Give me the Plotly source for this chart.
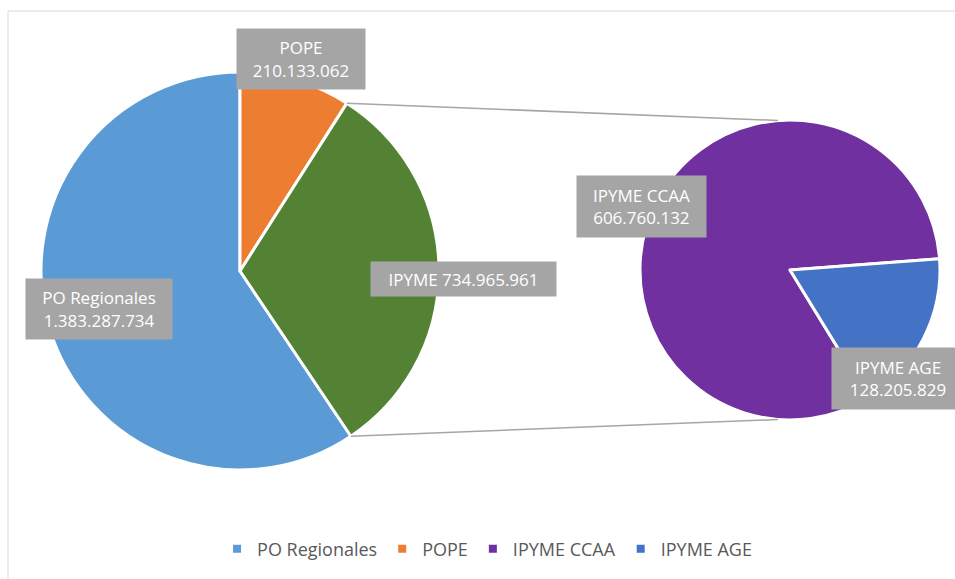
import math
import plotly.graph_objects as go

# Left pie (main programmes) and right pie (breakdown of IPYME)
main_labels = ["PO Regionales", "POPE", "IPYME"]
main_values = [1383287734, 210133062, 734965961]
main_colors = ["#5b9bd5", "#ed7d31", "#548235"]

ipyme_labels = ["IPYME CCAA", "IPYME AGE"]
ipyme_values = [606760132, 128205829]
ipyme_colors = ["#7030a0", "#4472c4"]

# Text shown in the grey label boxes
main_text = ["PO Regionales<br>1.383.287.734", "POPE<br>210.133.062", "IPYME 734.965.961"]
ipyme_text = ["IPYME CCAA<br>606.760.132", "IPYME AGE<br>128.205.829"]

W, H = 955, 579

def px_x(x):
    return x / W

def px_y(y):
    return 1 - y / H

# Pie geometry in pixels (centre x, centre y, radius)
left_pie = (240, 271, 199)
right_pie = (790, 270, 150)

def domain(p):
    cx, cy, r = p
    return dict(x=[px_x(cx - r), px_x(cx + r)], y=[px_y(cy + r), px_y(cy - r)])

# Start PO Regionales so that it ends at 12 o'clock
main_total = sum(main_values)
main_rot = 360 - 360 * main_values[0] / main_total
# IPYME AGE slice starts slightly above 3 o'clock
ipyme_total = sum(ipyme_values)
age_start = 85.7
ipyme_rot = age_start + 360 * ipyme_values[1] / ipyme_total

fig = go.Figure()
fig.add_trace(go.Pie(labels=main_labels, values=main_values, sort=False, direction="clockwise",
                     rotation=main_rot, domain=domain(left_pie), textinfo="none", showlegend=False,
                     marker=dict(colors=main_colors, line=dict(color="white", width=3))))
fig.add_trace(go.Pie(labels=ipyme_labels, values=ipyme_values, sort=False, direction="clockwise",
                     rotation=ipyme_rot, domain=domain(right_pie), textinfo="none", showlegend=False,
                     marker=dict(colors=ipyme_colors, line=dict(color="white", width=3))))

# Legend entries (IPYME itself is not in the legend)
legend_names = ["PO Regionales", "POPE", "IPYME CCAA", "IPYME AGE"]
legend_colors = ["#5b9bd5", "#ed7d31", "#7030a0", "#4472c4"]
for name, col in zip(legend_names, legend_colors):
    fig.add_trace(go.Scatter(x=[None], y=[None], mode="markers", name=name,
                             marker=dict(symbol="square", size=8, color=col)))

# Connector lines from the IPYME slice edges to the second pie
def point_on(p, angle):
    cx, cy, r = p
    a = math.radians(angle)
    return cx + r * math.sin(a), cy - r * math.cos(a)

ip_start = (main_rot + 360 * (main_values[0] + main_values[1]) / main_total) % 360
ip_end = main_rot
shapes = []
for a_left, a_right in [(ip_start, -4.6), (ip_end, 184.6)]:
    x0, y0 = point_on(left_pie, a_left)
    x1, y1 = point_on(right_pie, a_right)
    shapes.append(dict(type="line", xref="paper", yref="paper",
                       x0=px_x(x0), y0=px_y(y0), x1=px_x(x1), y1=px_y(y1),
                       line=dict(color="#a6a6a6", width=1.5)))

# Chart area border
shapes.append(dict(type="rect", xref="paper", yref="paper", x0=px_x(8), y0=px_y(11),
                   x1=1.02, y1=-0.02, line=dict(color="#d9d9d9", width=1), layer="below"))

# Label boxes: centre x, centre y, width, height (pixels)
boxes = [
    (main_text[0], 99, 308.5, 146, 60),
    (main_text[1], 301, 59, 128, 60),
    (main_text[2], 463.5, 279, 185, 34),
    (ipyme_text[0], 641.5, 206.5, 129, 61),
    (ipyme_text[1], 898, 378.5, 132, 61),
]
annotations = []
for txt, cx, cy, bw, bh in boxes:
    annotations.append(dict(text=txt, xref="paper", yref="paper", x=px_x(cx), y=px_y(cy),
                            xanchor="center", yanchor="middle", showarrow=False,
                            width=bw, height=bh, borderpad=0, bgcolor="#a5a5a5",
                            font=dict(family="Open Sans", size=17, color="white")))

fig.update_layout(
    width=W, height=H,
    margin=dict(l=0, r=0, t=0, b=0),
    paper_bgcolor="white", plot_bgcolor="white",
    xaxis=dict(visible=False), yaxis=dict(visible=False),
    shapes=shapes, annotations=annotations,
    legend=dict(orientation="h", x=0.51, xanchor="center", y=px_y(549), yanchor="middle",
                font=dict(family="Open Sans", size=18, color="#595959"), bgcolor="rgba(0,0,0,0)"),
)

# no page margin so the 955x579 figure fills the window exactly
fig.write_html("out.html", config={"displayModeBar": False},
               post_script="document.body.style.margin='0';")
